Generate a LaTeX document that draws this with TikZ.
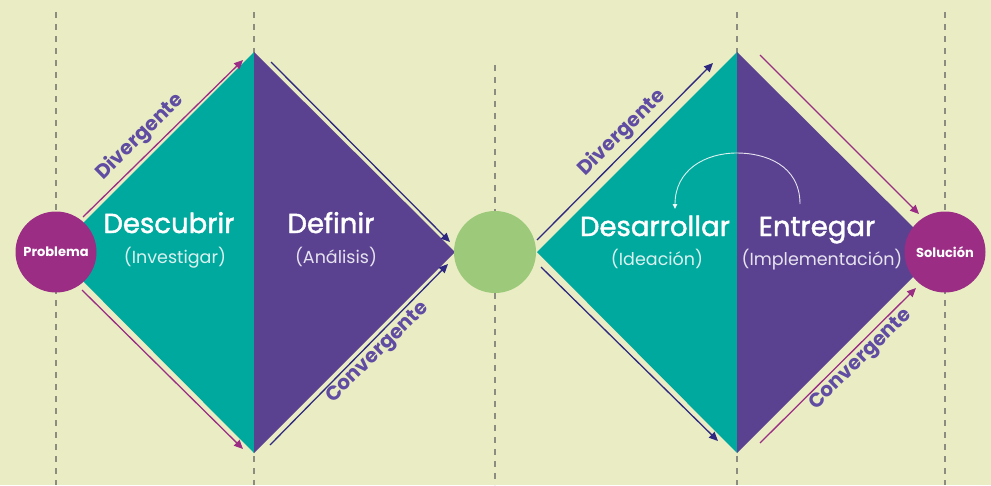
\documentclass[tikz,border=0pt]{standalone}
\usepackage{fontspec}
\setmainfont{Poppins}
\newfontfamily\popmed{Poppins}[FakeBold=1.6]
\usetikzlibrary{arrows.meta}
\definecolor{bgc}{RGB}{234,237,196}
\definecolor{tealc}{RGB}{0,169,158}
\definecolor{purc}{RGB}{90,66,145}
\definecolor{magc}{RGB}{155,45,132}
\definecolor{grnc}{RGB}{157,201,122}
\definecolor{navc}{RGB}{46,40,128}
\definecolor{lblc}{RGB}{96,76,162}
\definecolor{dashc}{RGB}{140,140,128}
\tikzset{
  guide/.style={draw=dashc,line width=1.1pt,dash pattern=on 6pt off 6pt},
  magarrow/.style={draw=magc,line width=1.3pt,-{Triangle[length=9pt,width=8pt]}},
  navarrow/.style={draw=navc,line width=1.3pt,-{Triangle[length=9pt,width=8pt]}},
  endcircle/.style={circle,fill=magc,minimum size=81pt,inner sep=0pt,text=white,font=\bfseries\fontsize{13}{15}\selectfont},
  midcircle/.style={circle,fill=grnc,minimum size=82pt,inner sep=0pt},
  phase/.style={text=white,anchor=base,inner sep=0pt,font=\popmed\fontsize{27.5}{30}\selectfont},
  sub/.style={text=white,text opacity=0.85,anchor=base,inner sep=0pt,font=\fontsize{17.5}{20}\selectfont},
  flowlbl/.style={text=lblc,font=\bfseries\fontsize{20}{22}\selectfont,rotate=44.5}
}
\begin{document}
\begin{tikzpicture}[x=1pt,y=-1pt]
\fill[bgc] (0,0) rectangle (991,485);
\useasboundingbox (0,0) rectangle (991,485);
% guides
\draw[guide] (56,12) -- (56,485);
\draw[guide] (254,12) -- (254,485);
\draw[guide] (495,65) -- (495,485);
\draw[guide] (737,12) -- (737,485);
\draw[guide] (945,12) -- (945,485);
% diamond vertices
\coordinate (L1) at (54,252);
\coordinate (T1) at (254,52);
\coordinate (B1) at (254,453);
\coordinate (R1) at (455,252);
\coordinate (L2) at (537,252);
\coordinate (T2) at (737,52);
\coordinate (B2) at (737,453);
\coordinate (R2) at (938,252);
\fill[tealc] (L1) -- (T1) -- (B1) -- cycle;
\fill[purc] (T1) -- (R1) -- (B1) -- cycle;
\fill[tealc] (L2) -- (T2) -- (B2) -- cycle;
\fill[purc] (T2) -- (R2) -- (B2) -- cycle;
% circles
\node[endcircle] (prob) at (56,252) {Problema};
\node[midcircle] (mid) at (495,252) {};
\node[endcircle] (sol) at (945,252) {Solución};
% arrow ends
\coordinate (a1s) at (83,217);  \coordinate (a1e) at (243,60);
\coordinate (a2s) at (82,290);  \coordinate (a2e) at (243,449);
\coordinate (a3s) at (271,62);  \coordinate (a3e) at (450,242);
\coordinate (a4s) at (270,445); \coordinate (a4e) at (448,264);
\coordinate (a5s) at (537,240); \coordinate (a5e) at (713,63);
\coordinate (a6s) at (541,267); \coordinate (a6e) at (718,441);
\coordinate (a7s) at (760,55);  \coordinate (a7e) at (919,214);
\coordinate (a8s) at (760,443); \coordinate (a8e) at (916,288);
\draw[magarrow] (a1s) -- (a1e);
\draw[magarrow] (a2s) -- (a2e);
\draw[navarrow] (a3s) -- (a3e);
\draw[navarrow] (a4s) -- (a4e);
\draw[navarrow] (a5s) -- (a5e);
\draw[navarrow] (a6s) -- (a6e);
\draw[magarrow] (a7s) -- (a7e);
\draw[magarrow] (a8s) -- (a8e);
% flow labels
\node[flowlbl] (dv1) at (140,137) {Divergente};
\node[flowlbl] (cv1) at (378,353) {Convergente};
\node[flowlbl] (dv2) at (622,133) {Divergente};
\node[flowlbl] (cv2) at (861,360) {Convergente};
% phase texts
\node[phase] (desc) at (169,233) {Descubrir};
\node[sub] (inv) at (175,263) {(Investigar)};
\node[phase] (defi) at (331,233) {Definir};
\node[sub] (ana) at (336,263) {(Análisis)};
\node[phase] (desa) at (655,236) {Desarrollar};
\node[sub] (idea) at (657,265) {(Ideación)};
\node[phase] (entr) at (817,236) {Entregar};
\node[sub] (impl) at (822,265) {(Implementación)};
% loop arrow
\coordinate (lpS) at (800,204);
\coordinate (lpT) at (737,153);
\coordinate (lpE) at (675,209);
\draw[white,draw opacity=0.85,line width=0.9pt,-{Triangle[length=5pt,width=4.5pt]}]
  (lpS) .. controls (800,165) and (765,153) .. (lpT)
  .. controls (705,153) and (675,170) .. (lpE);
\end{tikzpicture}
\end{document}
